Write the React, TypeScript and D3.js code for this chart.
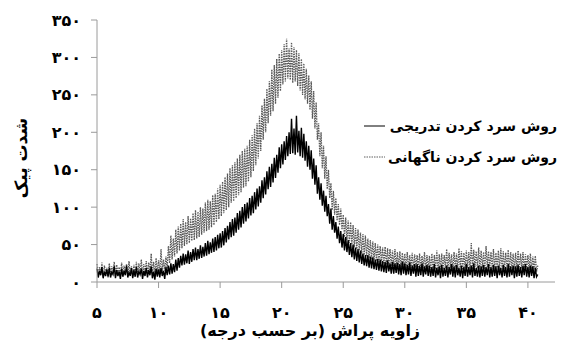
import React from "react";
import * as d3 from "d3";

const angleStart = 5;
const angleStep = 0.1;
const xTicks = [5, 10, 15, 20, 25, 30, 35, 40];
const yTicks = [0, 50, 100, 150, 200, 250, 300, 350];
const xTitle = "زاویه پراش (بر حسب درجه)";
const yTitle = "شدت پیک";
const seriesNames = ["روش سرد کردن تدریجی", "روش سرد کردن ناگهانی"];

// روش سرد کردن تدریجی (gradual cooling), 5.0° .. 40.8° every 0.1°
const gradual = [
  18, 6, 15, 9, 20, 5, 14, 8, 17, 7,
  19, 6, 13, 10, 21, 5, 16, 8, 14, 4,
  18, 7, 15, 9, 22, 6, 13, 8, 19, 5,
  16, 7, 20, 6, 14, 10, 18, 4, 15, 8,
  19, 6, 16, 9, 21, 5, 14, 3, 18, 7,
  17, 6, 19, 8, 15, 4, 20, 9, 22, 10,
  25, 11, 24, 13, 30, 15, 32, 19, 35, 22,
  38, 23, 37, 25, 42, 24, 40, 27, 44, 29,
  46, 29, 44, 31, 49, 32, 47, 34, 52, 35,
  55, 37, 53, 39, 58, 40, 60, 42, 63, 45,
  65, 46, 68, 49, 72, 53, 75, 57, 80, 60,
  84, 62, 86, 66, 92, 70, 95, 73, 100, 78,
  104, 81, 106, 85, 112, 89, 115, 92, 120, 97,
  125, 101, 128, 106, 136, 112, 140, 117, 148, 124,
  154, 127, 158, 133, 166, 139, 170, 146, 180, 152,
  184, 157, 188, 163, 195, 168, 200, 171, 218, 172,
  205, 170, 222, 173, 202, 168, 206, 166, 198, 162,
  188, 154, 182, 150, 176, 138, 165, 130, 156, 118,
  140, 110, 132, 102, 122, 94, 115, 88, 104, 78,
  98, 70, 88, 66, 80, 58, 74, 52, 68, 46,
  64, 42, 60, 40, 56, 36, 52, 33, 50, 30,
  46, 28, 44, 26, 42, 24, 38, 22, 36, 21,
  36, 19, 34, 18, 33, 17, 30, 16, 31, 15,
  30, 14, 28, 13, 27, 12, 29, 14, 25, 11,
  27, 11, 25, 12, 26, 10, 24, 9, 27, 11,
  25, 9, 23, 10, 26, 8, 22, 11, 24, 7,
  24, 8, 22, 9, 25, 7, 21, 10, 23, 8,
  22, 7, 20, 8, 24, 6, 19, 9, 21, 5,
  23, 7, 19, 8, 22, 6, 20, 10, 24, 7,
  21, 6, 23, 9, 19, 7, 22, 5, 20, 8,
  24, 7, 20, 9, 22, 6, 25, 8, 19, 7,
  22, 6, 21, 8, 23, 7, 20, 9, 24, 6,
  20, 7, 23, 8, 21, 5, 22, 9, 19, 6,
  23, 8, 20, 6, 24, 7, 21, 9, 22, 5,
  21, 7, 23, 8, 20, 6, 22, 9, 24, 7,
  20, 6, 22, 8, 21, 5, 19, 7, 10,
];

// روش سرد کردن ناگهانی (sudden cooling), 5.0° .. 40.8° every 0.1°
const sudden = [
  24, 8, 20, 10, 26, 7, 22, 11, 19, 6,
  25, 9, 21, 12, 27, 8, 23, 10, 20, 7,
  26, 9, 22, 11, 24, 8, 28, 10, 21, 7,
  23, 10, 27, 9, 25, 12, 30, 8, 24, 11,
  28, 10, 26, 12, 38, 11, 27, 9, 32, 13,
  29, 12, 44, 14, 30, 15, 34, 18, 48, 25,
  62, 30, 58, 34, 70, 38, 74, 42, 78, 45,
  84, 48, 80, 50, 88, 52, 85, 55, 92, 56,
  96, 58, 94, 60, 100, 63, 98, 66, 106, 68,
  110, 70, 108, 73, 116, 76, 118, 80, 125, 84,
  130, 88, 134, 92, 140, 96, 145, 100, 152, 106,
  156, 108, 160, 112, 165, 116, 170, 120, 175, 126,
  178, 128, 182, 134, 190, 140, 196, 148, 205, 156,
  212, 165, 222, 175, 236, 190, 245, 200, 258, 212,
  268, 222, 284, 228, 290, 238, 298, 246, 305, 255,
  310, 264, 318, 268, 325, 272, 312, 270, 320, 266,
  314, 268, 310, 262, 306, 256, 298, 250, 292, 244,
  285, 238, 276, 230, 268, 218, 255, 205, 240, 190,
  212, 168, 200, 152, 182, 138, 168, 124, 150, 112,
  132, 96, 122, 90, 112, 82, 104, 76, 98, 70,
  90, 60, 86, 56, 82, 52, 80, 50, 76, 46,
  72, 44, 70, 42, 66, 38, 64, 36, 62, 34,
  58, 32, 56, 30, 54, 29, 52, 28, 50, 27,
  48, 26, 46, 24, 47, 23, 45, 22, 44, 21,
  42, 21, 44, 20, 40, 19, 41, 18, 39, 20,
  38, 18, 40, 17, 36, 19, 39, 16, 37, 18,
  36, 17, 38, 16, 35, 18, 40, 15, 36, 17,
  35, 16, 38, 15, 36, 17, 42, 14, 37, 16,
  38, 17, 36, 18, 44, 16, 39, 19, 37, 15,
  40, 18, 38, 17, 45, 19, 41, 16, 39, 18,
  42, 19, 40, 18, 52, 17, 43, 20, 41, 18,
  46, 18, 42, 19, 40, 17, 48, 20, 41, 19,
  40, 18, 44, 17, 39, 19, 42, 16, 45, 18,
  41, 17, 39, 18, 43, 16, 40, 19, 38, 17,
  39, 16, 42, 17, 38, 18, 40, 15, 37, 17,
  36, 16, 38, 15, 34, 17, 35, 14, 22,
];

const W = 568;
const H = 342;
const FONT = "'DejaVu Sans', sans-serif";
const faDigits = "۰۱۲۳۴۵۶۷۸۹";
const toFa = (n: number) => String(n).replace(/\d/g, (d) => faDigits[+d]);
const RLM = "\u200F";

export default function App() {
  const x = d3.scaleLinear().domain([5, 42.2]).range([97, 555]);
  const y = d3.scaleLinear().domain([0, 350]).range([282, 20]);
  const line = d3
    .line<number>()
    .x((_, i) => x(angleStart + i * angleStep))
    .y((d) => y(d));
  const axisColor = "#9a9a9a";
  const x0 = x(5);
  const y0 = y(0);

  return (
    <svg
      width={W}
      height={H}
      style={{ position: "absolute", left: 0, top: 0, background: "#fff" }}
      fontFamily={FONT}
    >
      <rect width={W} height={H} fill="#fff" />
      {/* data */}
      <path
        d={line(sudden) || ""}
        fill="none"
        stroke="#595959"
        strokeWidth={1.3}
        strokeDasharray="1.5,1"
      />
      <path d={line(gradual) || ""} fill="none" stroke="#000" strokeWidth={1.4} />

      {/* axes */}
      <line x1={x0} x2={x0} y1={y(350)} y2={y0} stroke={axisColor} strokeWidth={1} />
      <line x1={x0} x2={x.range()[1]} y1={y0} y2={y0} stroke={axisColor} strokeWidth={1} />
      {yTicks.map((t) => (
        <g key={"y" + t}>
          <line x1={x0 - 6} x2={x0} y1={y(t)} y2={y(t)} stroke={axisColor} />
          <text
            x={x0 - 16}
            y={y(t)}
            dy="0.35em"
            textAnchor="end"
            fontSize={16}
            fontWeight="bold"
            fill="#000"
          >
            {toFa(t)}
          </text>
        </g>
      ))}
      {xTicks.map((t) => (
        <g key={"x" + t}>
          <line x1={x(t)} x2={x(t)} y1={y0} y2={y0 + 6} stroke={axisColor} />
          <text
            x={x(t)}
            y={318}
            textAnchor="middle"
            fontSize={16}
            fontWeight="bold"
            fill="#000"
          >
            {toFa(t)}
          </text>
        </g>
      ))}

      {/* axis titles */}
      <text
        x={310}
        y={336}
        textAnchor="middle"
        fontSize={16}
        fontWeight="bold"
        fill="#000"
      >
        {RLM + xTitle + RLM}
      </text>
      <text
        transform={`translate(27,158) rotate(-90)`}
        textAnchor="middle"
        fontSize={17}
        fontWeight="bold"
        fill="#000"
      >
        {RLM + yTitle + RLM}
      </text>

      {/* legend */}
      <line x1={364} x2={385} y1={126} y2={126} stroke="#000" strokeWidth={1} />
      <text x={557} y={131} textAnchor="end" fontSize={14} fontWeight="bold" fill="#000">
        {RLM + seriesNames[0] + RLM}
      </text>
      <line
        x1={364}
        x2={385}
        y1={157}
        y2={157}
        stroke="#5e5e5e"
        strokeWidth={1}
        strokeDasharray="1.5,1"
      />
      <text x={557} y={162} textAnchor="end" fontSize={14} fontWeight="bold" fill="#000">
        {RLM + seriesNames[1] + RLM}
      </text>
    </svg>
  );
}
